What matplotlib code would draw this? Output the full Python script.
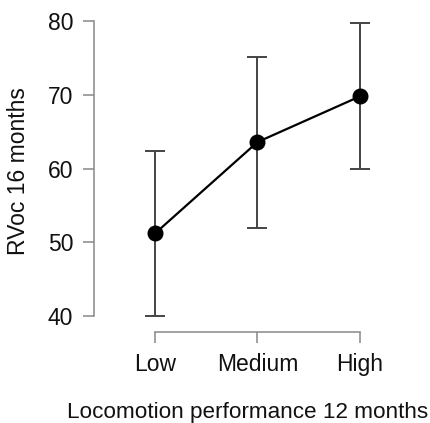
import matplotlib.pyplot as plt
import numpy as np

plt.rcParams['font.family'] = ['Liberation Sans', 'DejaVu Sans']

groups = ['Low', 'Medium', 'High']
means = [51.2, 63.6, 69.8]
lower = [40.0, 52.0, 60.0]
upper = [62.4, 75.2, 79.7]

x = np.arange(1, len(groups) + 1)
means = np.array(means)
yerr = [means - np.array(lower), np.array(upper) - means]

fig = plt.figure(figsize=(4.30, 4.23), dpi=100)
ax = fig.add_axes([0.2186, 0.2151, 0.758, 0.761])

ax.errorbar(x, means, yerr=yerr, fmt='none', ecolor='#444444', elinewidth=1.4,
            capsize=7.5, capthick=1.4, zorder=2)
ax.plot(x, means, color='black', lw=1.6, marker='o', ms=10.5, zorder=3)

ax.set_xlim(0.405, 3.585)
ax.set_ylim(37.83, 81.5)
ax.set_xticks(x)
ax.set_xticklabels(groups)
ax.set_yticks([40, 50, 60, 70, 80])

for s in ['top', 'right']:
    ax.spines[s].set_visible(False)
ax.spines['left'].set_bounds(40, 80)
ax.spines['bottom'].set_bounds(1, 3)
for s in ['left', 'bottom']:
    ax.spines[s].set_color('#888888')
    ax.spines[s].set_linewidth(1.1)

ax.tick_params(axis='both', direction='out', length=7.9, width=1.1,
               color='#888888', labelsize=16.5, labelcolor='#111111')
ax.tick_params(axis='y', pad=7)
ax.tick_params(axis='x', pad=7)

ax.set_ylabel('RVoc 16 months', fontsize=16.5, color='#111111')
ax.yaxis.set_label_coords(-0.196, 0.5)
fig.text(248 / 430, 5 / 423, 'Locomotion performance 12 months', ha='center',
         va='baseline', fontsize=16.2, color='#111111')

fig.savefig('out.png', dpi=100)
